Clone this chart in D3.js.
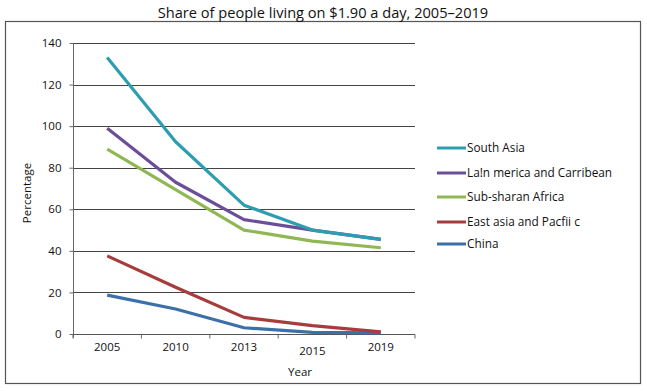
<!DOCTYPE html>
<html><head><meta charset="utf-8">
<script src="https://cdn.jsdelivr.net/npm/d3@7"></script>
<style>body{margin:0;background:#fff}svg{display:block;font-family:"Open Sans","Noto Sans",sans-serif}</style>
</head><body><svg id="c" width="647" height="391"></svg>
<script>
const years = ["2005","2010","2013","2015","2019"];
const seriesNames = ["South Asia","La!n merica and Carribean","Sub-sharan Africa","East asia and Pacfii c","China"];
const southAsia = [133, 92.5, 62, 50, 45.5];
const latinAmerica = [99, 73, 55, 50, 45.5];
const subSaharan = [89, 69.5, 50, 44.7, 41.5];
const eastAsia = [37.6, 22.5, 8, 4, 1];
const china = [18.7, 12, 3, 0.8, 0.5];
const colors = ["#2d9db0","#6a4f98","#8fb854","#a63c3c","#3c70a8"];
const yTicks = [0,20,40,60,80,100,120,140];

const data = [southAsia, latinAmerica, subSaharan, eastAsia, china];
const svg = d3.select("#c");
const L = 73, R = 415, T = 43, B = 334;
const x = d3.scaleBand().domain(years).range([L, R]);
const y = d3.scaleLinear().domain([0, 140]).range([B, T]);

svg.append("rect").attr("x",5.5).attr("y",21.5).attr("width",635).attr("height",362)
  .attr("fill","none").attr("stroke","#555").attr("stroke-width",1.2);

svg.append("text").attr("x",323).attr("y",18).attr("text-anchor","middle")
  .attr("font-size",14.6).attr("fill","#111").text("Share of people living on $1.90 a day, 2005\u20132019");

// gridlines
svg.append("g").selectAll("line").data(yTicks.filter(d=>d>0)).join("line")
  .attr("x1",L).attr("x2",R).attr("y1",d=>Math.round(y(d))+0.5).attr("y2",d=>Math.round(y(d))+0.5)
  .attr("stroke","#444").attr("stroke-width",1);

// y axis
const ya = svg.append("g").attr("transform",`translate(${L+0.5},0)`)
  .call(d3.axisLeft(y).tickValues(yTicks).tickSize(4).tickPadding(8));
ya.select(".domain").attr("stroke","#666").attr("d",`M0,${T}V${B+4}`);
ya.selectAll(".tick line").attr("stroke","#666");
ya.selectAll(".tick text").attr("font-size",11.5).attr("fill","#111").attr("font-family","'Open Sans',sans-serif");

// x axis
const xa = svg.append("g").attr("transform",`translate(0,${B+0.5})`);
xa.append("line").attr("x1",L).attr("x2",R).attr("stroke","#555");
const bounds = years.map((d,i)=>x(d)).concat([R]);
xa.selectAll("line.t").data(bounds).join("line").attr("class","t")
  .attr("x1",d=>d).attr("x2",d=>d).attr("y1",0).attr("y2",4).attr("stroke","#666");
xa.selectAll("text").data(years).join("text")
  .attr("x",d=>x(d)+x.bandwidth()/2).attr("y",(d,i)=>i===3?20:16)
  .attr("text-anchor","middle").attr("font-size",11.5).attr("fill","#111").text(d=>d);

svg.append("text").attr("x",300).attr("y",376).attr("text-anchor","middle")
  .attr("font-size",11.5).attr("fill","#111").text("Year");
svg.append("text").attr("transform","translate(31,193) rotate(-90)").attr("text-anchor","middle")
  .attr("font-size",11.5).attr("fill","#111").text("Percentage");

// lines (draw bottom-to-top order so South Asia ends on top)
const line = d3.line().x((d,i)=>x(years[i])+x.bandwidth()/2).y(d=>y(d));
const order = [4,3,2,1,0];
svg.append("g").selectAll("path").data(order).join("path")
  .attr("d",k=>line(data[k])).attr("fill","none").attr("stroke",k=>colors[k])
  .attr("stroke-width",3.2).attr("stroke-linejoin","round");

// legend
const ly = [148,173,197,222,244];
const lg = svg.append("g").selectAll("g").data(seriesNames).join("g")
  .attr("transform",(d,i)=>`translate(437,${ly[i]})`);
lg.append("line").attr("x1",0).attr("x2",29).attr("stroke",(d,i)=>colors[i]).attr("stroke-width",3);
lg.append("text").attr("x",30).attr("y",4).attr("font-size",11.8).attr("fill","#111").text(d=>d);
</script></body></html>
